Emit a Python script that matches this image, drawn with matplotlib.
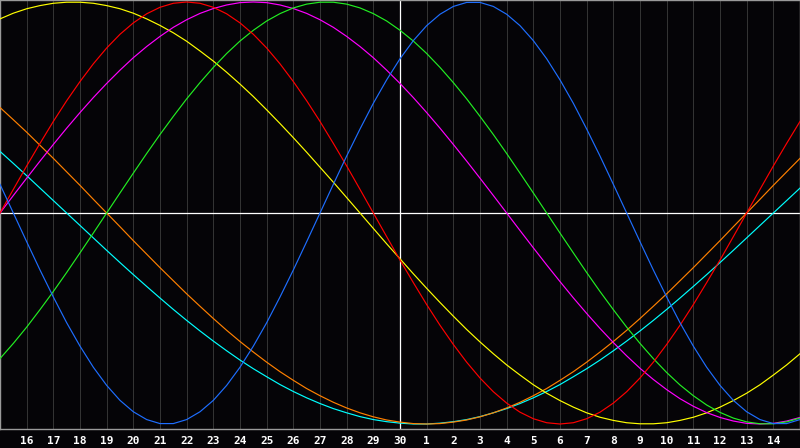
import matplotlib
matplotlib.use('Agg')
import matplotlib.pyplot as plt

# half-day steps, 0 = the 15th, 15 = today (the 30th), 30 = the 15th next month
days = [i / 2 for i in range(61)]
tick_pos = list(range(1, 30))
tick_labels = [str(d) for d in range(16, 31)] + [str(d) for d in range(1, 15)]
today = 15

# cycle values, every half day
blue = [0.136, 0.000, -0.136, -0.270, -0.398, -0.520, -0.631, -0.731, -0.817, -0.888,
        -0.942, -0.979, -0.998, -0.998, -0.979, -0.942, -0.888, -0.817, -0.731, -0.631,
        -0.520, -0.398, -0.270, -0.136, 0.000, 0.136, 0.270, 0.398, 0.520, 0.631,
        0.731, 0.817, 0.888, 0.942, 0.979, 0.998, 0.998, 0.979, 0.942, 0.888,
        0.817, 0.731, 0.631, 0.520, 0.398, 0.270, 0.136, 0.000, -0.136, -0.270,
        -0.398, -0.520, -0.631, -0.731, -0.817, -0.888, -0.942, -0.979, -0.998, -0.998,
        -0.979]
red = [0.000, 0.112, 0.223, 0.330, 0.434, 0.532, 0.623, 0.707, 0.782, 0.847,
       0.901, 0.944, 0.975, 0.994, 1.000, 0.994, 0.975, 0.944, 0.901, 0.847,
       0.782, 0.707, 0.623, 0.532, 0.434, 0.330, 0.223, 0.112, 0.000, -0.112,
       -0.223, -0.330, -0.434, -0.532, -0.623, -0.707, -0.782, -0.847, -0.901, -0.944,
       -0.975, -0.994, -1.000, -0.994, -0.975, -0.944, -0.901, -0.847, -0.782, -0.707,
       -0.623, -0.532, -0.434, -0.330, -0.223, -0.112, 0.000, 0.112, 0.223, 0.330,
       0.434]
green = [-0.690, -0.618, -0.541, -0.458, -0.372, -0.282, -0.189, -0.095, 0.000, 0.095,
         0.189, 0.282, 0.372, 0.458, 0.541, 0.618, 0.690, 0.756, 0.815, 0.866,
         0.910, 0.945, 0.972, 0.990, 0.999, 0.999, 0.990, 0.972, 0.945, 0.910,
         0.866, 0.815, 0.756, 0.690, 0.618, 0.541, 0.458, 0.372, 0.282, 0.189,
         0.095, 0.000, -0.095, -0.189, -0.282, -0.372, -0.458, -0.541, -0.618, -0.690,
         -0.756, -0.815, -0.866, -0.910, -0.945, -0.972, -0.990, -0.999, -0.999, -0.990,
         -0.972]
magenta = [0.000, 0.083, 0.165, 0.246, 0.325, 0.402, 0.476, 0.547, 0.614, 0.677,
           0.736, 0.789, 0.837, 0.880, 0.916, 0.946, 0.969, 0.986, 0.997, 1.000,
           0.997, 0.986, 0.969, 0.946, 0.916, 0.880, 0.837, 0.789, 0.736, 0.677,
           0.614, 0.547, 0.476, 0.402, 0.325, 0.246, 0.165, 0.083, 0.000, -0.083,
           -0.165, -0.246, -0.325, -0.402, -0.476, -0.547, -0.614, -0.677, -0.736, -0.789,
           -0.837, -0.880, -0.916, -0.946, -0.969, -0.986, -0.997, -1.000, -0.997, -0.986,
           -0.969]
yellow = [0.920, 0.947, 0.968, 0.983, 0.994, 0.999, 0.999, 0.994, 0.983, 0.968,
          0.947, 0.920, 0.889, 0.854, 0.814, 0.768, 0.720, 0.667, 0.611, 0.552,
          0.489, 0.424, 0.357, 0.288, 0.217, 0.146, 0.073, 0.000, -0.073, -0.146,
          -0.217, -0.288, -0.357, -0.424, -0.489, -0.552, -0.611, -0.667, -0.720, -0.768,
          -0.814, -0.854, -0.889, -0.920, -0.947, -0.968, -0.983, -0.994, -0.999, -0.999,
          -0.994, -0.983, -0.968, -0.947, -0.920, -0.889, -0.854, -0.814, -0.768, -0.720,
          -0.667]
orange = [0.500, 0.442, 0.383, 0.321, 0.259, 0.195, 0.131, 0.065, 0.000, -0.065,
          -0.131, -0.195, -0.259, -0.321, -0.383, -0.442, -0.500, -0.556, -0.609, -0.659,
          -0.707, -0.752, -0.793, -0.832, -0.866, -0.897, -0.924, -0.947, -0.966, -0.981,
          -0.991, -0.998, -1.000, -0.998, -0.991, -0.981, -0.966, -0.947, -0.924, -0.897,
          -0.866, -0.832, -0.793, -0.752, -0.707, -0.659, -0.609, -0.556, -0.500, -0.442,
          -0.383, -0.321, -0.259, -0.195, -0.131, -0.065, 0.000, 0.065, 0.131, 0.195,
          0.259]
cyan = [0.292, 0.235, 0.177, 0.118, 0.059, 0.000, -0.059, -0.118, -0.177, -0.235,
        -0.292, -0.348, -0.403, -0.457, -0.509, -0.559, -0.607, -0.653, -0.697, -0.738,
        -0.776, -0.813, -0.846, -0.876, -0.903, -0.927, -0.947, -0.965, -0.979, -0.989,
        -0.996, -1.000, -1.000, -0.996, -0.989, -0.979, -0.965, -0.947, -0.927, -0.903,
        -0.876, -0.846, -0.813, -0.776, -0.738, -0.697, -0.653, -0.607, -0.559, -0.509,
        -0.457, -0.403, -0.348, -0.292, -0.235, -0.177, -0.118, -0.059, 0.000, 0.059,
        0.118]

series = [
    (cyan, "#00ffff"),
    (orange, "#ff8000"),
    (yellow, "#ffff00"),
    (magenta, "#ff00ff"),
    (green, "#22ee22"),
    (red, "#ff0000"),
    (blue, "#1e6eff"),
]

bg = "#050407"
fig = plt.figure(figsize=(8, 4.48), dpi=100, facecolor=bg)
ax = fig.add_axes([0, 19 / 448, 1, 429 / 448])
ax.set_facecolor(bg)

# day grid
for p in tick_pos:
    if p != today:
        ax.axvline(p, color="#333333", linewidth=0.75, zorder=1)
ax.axvline(today, color="white", linewidth=0.9, zorder=2)
ax.axhline(0, color="white", linewidth=0.9, zorder=2)

for vals, col in series:
    ax.plot(days, vals, color=col, linewidth=0.85, zorder=3)

ax.set_xlim(0, 30)
ax.set_ylim(-1.0237, 1.0095)
ax.set_yticks([])
ax.set_xticks(tick_pos)
ax.set_xticklabels(tick_labels, fontsize=8, fontweight="bold",
                   family="DejaVu Sans Mono", color="white")
ax.tick_params(axis="x", length=0, pad=5)

for s in ax.spines.values():
    s.set_color("#9a9a9a")
    s.set_linewidth(1.0)

fig.savefig("out.png", dpi=100, facecolor=bg)
